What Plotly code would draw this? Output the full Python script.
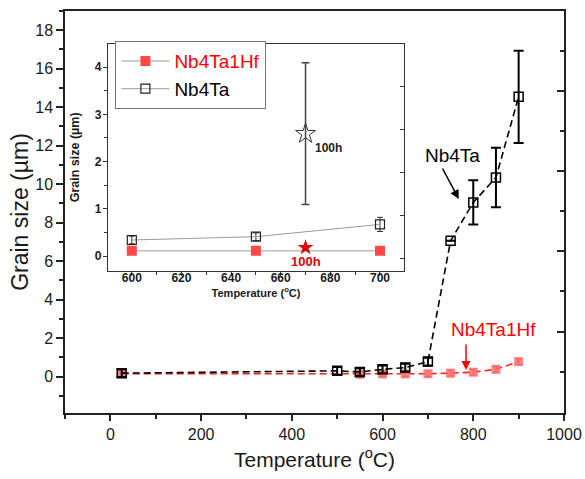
import plotly.graph_objects as go

# ---------------- data ----------------
T_main = [25, 500, 550, 600, 650, 700, 750, 800, 850, 900]
nb4ta_main = [0.18, 0.30, 0.24, 0.38, 0.47, 0.78, 7.06, 9.05, 10.35, 14.54]
nb4ta_main_err = [0.2, 0.2, 0.2, 0.2, 0.2, 0.2, 0.0, 1.15, 1.55, 2.4]

T_hf = [25, 550, 600, 650, 700, 750, 800, 850, 900]
nb4ta1hf_main = [0.15, 0.12, 0.14, 0.14, 0.15, 0.18, 0.23, 0.38, 0.78]
nb4ta1hf_main_err = [0.15, 0.15, 0.15, 0.15, 0.15, 0.15, 0.15, 0.15, 0.15]

T_inset = [600, 650, 700]
nb4ta_inset = [0.34, 0.41, 0.67]
nb4ta_inset_err = [0.08, 0.08, 0.15]
nb4ta1hf_inset = [0.11, 0.11, 0.11]
nb4ta1hf_inset_err = [0.05, 0.05, 0.05]

T_100h = [670]
nb4ta_100h = [2.59]
nb4ta_100h_err = [1.5]
nb4ta1hf_100h = [0.18]

# right-side (mirror) tick positions of the frames
main_right_major = [2, 6, 10, 14]
main_right_minor = [0, 4, 8, 12, 16]
inset_right_ticks = [0, 1, 2, 3, 4]

FONT = "Liberation Sans, Arial, sans-serif"
PINK = "rgba(255,110,110,0.85)"

fig = go.Figure()

# ---------------- main chart ----------------
fig.add_trace(go.Scatter(
    x=T_hf, y=nb4ta1hf_main, mode="lines+markers", showlegend=False,
    line=dict(color="#ff2020", width=1.6, dash="7px,4px"),
    marker=dict(symbol="square", size=9, color=PINK, line=dict(width=0)),
    error_y=dict(type="data", array=nb4ta1hf_main_err, color="#c03030", thickness=1.2, width=3),
    xaxis="x", yaxis="y"))
fig.add_trace(go.Scatter(
    x=T_main, y=nb4ta_main, mode="lines+markers", showlegend=False,
    line=dict(color="black", width=1.6, dash="7px,4px"),
    marker=dict(symbol="square-open", size=9, color="black", line=dict(width=1.5)),
    error_y=dict(type="data", array=nb4ta_main_err, color="black", thickness=2, width=5),
    xaxis="x", yaxis="y"))

# ---------------- inset ----------------
fig.add_trace(go.Scatter(
    x=T_inset, y=nb4ta1hf_inset, mode="lines+markers",
    name="<span style='color:#ff0000'>Nb4Ta1Hf</span>",
    line=dict(color="#9a9a9a", width=1),
    marker=dict(symbol="square", size=10, color="#ff4848", line=dict(width=0)),
    error_y=dict(type="data", array=nb4ta1hf_inset_err, color="#c01818", thickness=1, width=3),
    xaxis="x2", yaxis="y2"))
fig.add_trace(go.Scatter(
    x=T_inset, y=nb4ta_inset, mode="lines+markers",
    name="Nb4Ta",
    line=dict(color="#9a9a9a", width=1),
    marker=dict(symbol="square-open", size=9, color="#222", line=dict(width=1.2)),
    error_y=dict(type="data", array=nb4ta_inset_err, color="#333", thickness=1, width=3),
    xaxis="x2", yaxis="y2"))
fig.add_trace(go.Scatter(
    x=T_100h, y=nb4ta_100h, mode="markers", showlegend=False,
    marker=dict(symbol="star-open", size=15, color="#333", line=dict(width=1)),
    error_y=dict(type="data", array=nb4ta_100h_err, color="#444", thickness=1.5, width=4),
    xaxis="x2", yaxis="y2"))
fig.add_trace(go.Scatter(
    x=T_100h, y=nb4ta1hf_100h, mode="markers", showlegend=False,
    marker=dict(symbol="star", size=12, color="#e00000"),
    xaxis="x2", yaxis="y2"))

# invisible traces to attach the right-hand tick axes
fig.add_trace(go.Scatter(x=[None], y=[None], xaxis="x", yaxis="y3", showlegend=False, hoverinfo="skip"))
fig.add_trace(go.Scatter(x=[None], y=[None], xaxis="x2", yaxis="y4", showlegend=False, hoverinfo="skip"))

axis_line = dict(showline=True, linecolor="#222", linewidth=1.5, mirror=True,
                 showgrid=False, zeroline=False, automargin=False)

inset_x0, inset_x1 = 0.0856, 0.680
inset_y0, inset_y1 = 0.354, 0.918

fig.update_layout(
    width=585, height=479,
    margin=dict(l=65, r=21, t=11, b=66),
    paper_bgcolor="white", plot_bgcolor="white",
    font=dict(family=FONT, color="#1a1a1a"),
    xaxis=dict(**axis_line, range=[-100, 1000], domain=[0, 1],
               ticks="outside", ticklen=6, tickwidth=1.5, tickcolor="#222",
               dtick=200, tick0=0,
               minor=dict(dtick=100, tick0=0, ticks="outside", ticklen=4, tickwidth=1.5, tickcolor="#222"),
               tickfont=dict(size=16, family=FONT),
               title=dict(text="Temperature (<sup>o</sup>C)", font=dict(size=21, family=FONT), standoff=10)),
    yaxis=dict(**axis_line, range=[-1.89, 19.0], domain=[0, 1], anchor="x",
               ticks="outside", ticklen=7, tickwidth=1.5, tickcolor="#222",
               dtick=2, tick0=0,
               minor=dict(dtick=1, tick0=0, ticks="outside", ticklen=4, tickwidth=1.5, tickcolor="#222"),
               tickfont=dict(size=16, family=FONT),
               title=dict(text="Grain size (\u00b5m)", font=dict(size=23, family=FONT), standoff=0)),
    yaxis3=dict(overlaying="y", side="right", anchor="x", range=[-2.06, 17.98], automargin=False,
                showgrid=False, zeroline=False, showline=False, showticklabels=False,
                tickmode="array", tickvals=main_right_major,
                ticks="inside", ticklen=7, tickwidth=1.5, tickcolor="#222",
                minor=dict(tickmode="array", tickvals=main_right_minor, ticks="inside",
                           ticklen=4, tickwidth=1.5, tickcolor="#222")),
    xaxis2=dict(showline=True, linecolor="#333", linewidth=1, mirror=True,
                showgrid=False, zeroline=False, automargin=False,
                domain=[inset_x0, inset_x1], anchor="y2", range=[590.3, 709.8],
                ticks="outside", ticklen=4, tickwidth=1, tickcolor="#333",
                dtick=20, tick0=600, ticklabelstandoff=-8,
                minor=dict(dtick=10, tick0=600, ticks="outside", ticklen=3, tickwidth=1, tickcolor="#333"),
                tickfont=dict(size=12, family=FONT, weight="bold"),
                title=dict(text="Temperature (<sup>o</sup>C)", font=dict(size=11, family=FONT, weight="bold"), standoff=2)),
    yaxis2=dict(showline=True, linecolor="#333", linewidth=1, mirror=True,
                showgrid=False, zeroline=False, automargin=False,
                domain=[inset_y0, inset_y1], anchor="x2", range=[-0.31, 4.49],
                ticks="outside", ticklen=4, tickwidth=1, tickcolor="#333",
                dtick=1, tick0=0, ticklabelstandoff=-1,
                minor=dict(dtick=0.5, tick0=0, ticks="outside", ticklen=2.5, tickwidth=1, tickcolor="#333"),
                tickfont=dict(size=12, family=FONT, weight="bold"),
                title=dict(text="Grain size (\u00b5m)", font=dict(size=12.5, family=FONT, weight="bold"), standoff=12)),
    yaxis4=dict(overlaying="y2", side="right", anchor="x2", range=[-0.29, 5.0], automargin=False,
                showgrid=False, zeroline=False, showline=False, showticklabels=False,
                tickmode="array", tickvals=inset_right_ticks,
                ticks="inside", ticklen=4, tickwidth=1, tickcolor="#333"),
    legend=dict(x=0.101, y=0.925, xanchor="left", yanchor="top",
                bgcolor="white", bordercolor="#777", borderwidth=1,
                font=dict(size=19, family=FONT, color="black"),
                tracegroupgap=0, itemwidth=48),
    showlegend=True,
)

fig.add_annotation(x=673, y=2.28, xref="x2", yref="y2", text="<b>100h</b>", showarrow=False,
                   xanchor="left", font=dict(size=12, family=FONT, color="#222"))
fig.add_annotation(x=670, y=-0.12, xref="x2", yref="y2", text="<b>100h</b>", showarrow=False,
                   font=dict(size=13, family=FONT, color="#e00000"))

# main annotations with arrows
fig.add_annotation(x=755, y=11.5, xref="x", yref="y", text="Nb4Ta", showarrow=False,
                   font=dict(size=19, family=FONT, color="black"))
fig.add_annotation(x=768, y=9.23, xref="x", yref="y", text="", showarrow=True,
                   ax=-17, ay=-32, arrowhead=2, arrowsize=1.2, arrowwidth=1.5, arrowcolor="black")
fig.add_annotation(x=845, y=2.43, xref="x", yref="y", text="Nb4Ta1Hf", showarrow=False,
                   font=dict(size=19, family=FONT, color="#ff0000"))
fig.add_annotation(x=784, y=0.35, xref="x", yref="y", text="", showarrow=True,
                   ax=0, ay=-27, arrowhead=2, arrowsize=1.2, arrowwidth=1.5, arrowcolor="#ff0000")

fig.write_html("out.html")
